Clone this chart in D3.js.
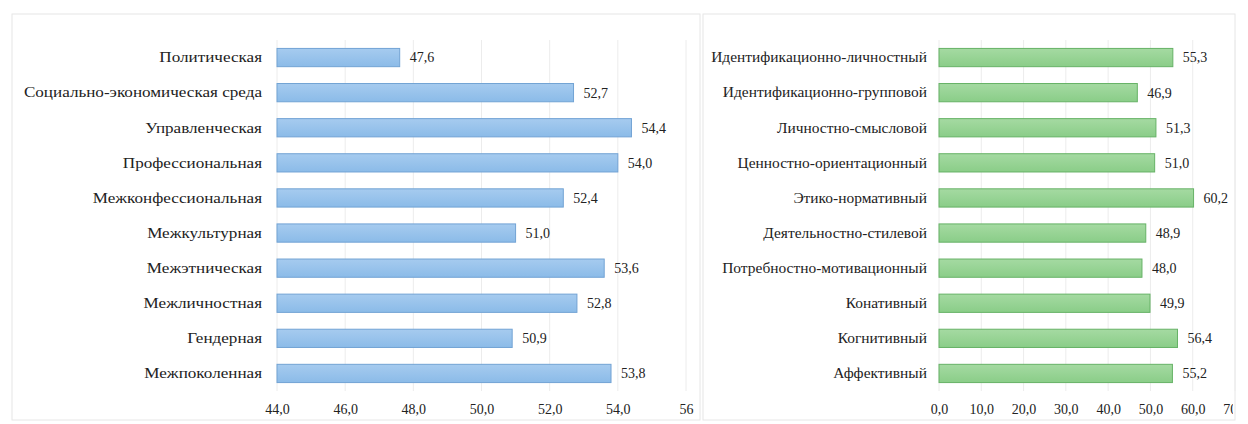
<!DOCTYPE html>
<html>
<head>
<meta charset="utf-8">
<script src="https://cdn.jsdelivr.net/npm/d3@7"></script>
<style>
  body { margin: 0; background: #fff; }
  svg text { font-family: "Times New Roman", "Liberation Serif", "DejaVu Serif", serif !important; fill: #222; }
</style>
</head>
<body>
<svg id="chart" width="1248" height="424"></svg>
<script>
// left panel
const leftCats = ["Политическая", "Социально-экономическая среда", "Управленческая", "Профессиональная",
  "Межконфессиональная", "Межкультурная", "Межэтническая", "Межличностная", "Гендерная", "Межпоколенная"];
const leftVals = [47.6, 52.7, 54.4, 54.0, 52.4, 51.0, 53.6, 52.8, 50.9, 53.8];
const leftTicks = [44, 46, 48, 50, 52, 54, 56];
const leftTickLabels = ["44,0", "46,0", "48,0", "50,0", "52,0", "54,0", "56"];

// right panel
const rightCats = ["Идентификационно-личностный", "Идентификационно-групповой", "Личностно-смысловой",
  "Ценностно-ориентационный", "Этико-нормативный", "Деятельностно-стилевой", "Потребностно-мотивационный",
  "Конативный", "Когнитивный", "Аффективный"];
const rightVals = [55.3, 46.9, 51.3, 51.0, 60.2, 48.9, 48.0, 49.9, 56.4, 55.2];
const rightTicks = [0, 10, 20, 30, 40, 50, 60, 70];
const rightTickLabels = ["0,0", "10,0", "20,0", "30,0", "40,0", "50,0", "60,0", "70,0"];

const svg = d3.select("#chart");
const defs = svg.append("defs");
const fmt = v => v.toFixed(1).replace(".", ",");

function panel(opt) {
    const g = svg.append("g");
    g.append("rect")
        .attr("x", opt.frame[0]).attr("y", 14)
        .attr("width", opt.frame[1] - opt.frame[0]).attr("height", 406)
        .attr("fill", "none").attr("stroke", "#e6e6e6");

    const x = d3.scaleLinear().domain(opt.domain).range(opt.range);
    const y = d3.scaleBand().domain(opt.cats).range([40, 391]).paddingInner(0.48).paddingOuter(0.24);

    // gridlines
    g.append("g").selectAll("line")
        .data(opt.ticks)
        .join("line")
        .attr("x1", d => x(d)).attr("x2", d => x(d))
        .attr("y1", 40).attr("y2", 391)
        .attr("stroke", "#ececec");

    const lg = defs.append("linearGradient")
        .attr("id", opt.id).attr("x1", 0).attr("x2", 0).attr("y1", 0).attr("y2", 1);
    lg.append("stop").attr("offset", "0%").attr("stop-color", opt.light);
    lg.append("stop").attr("offset", "100%").attr("stop-color", opt.fill);

    g.append("g").selectAll("rect")
        .data(opt.vals)
        .join("rect")
        .attr("x", x(opt.domain[0]))
        .attr("y", (d, i) => y(opt.cats[i]))
        .attr("width", d => x(d) - x(opt.domain[0]))
        .attr("height", y.bandwidth())
        .attr("fill", "url(#" + opt.id + ")")
        .attr("stroke", opt.stroke);

    // value labels
    g.append("g").selectAll("text")
        .data(opt.vals)
        .join("text")
        .attr("transform", (d, i) => "translate(" + (x(d) + 10) + "," + (y(opt.cats[i]) + y.bandwidth() / 2) + ")")
        .attr("dy", "0.35em")
        .attr("font-size", 14)
        .text(d => fmt(d));

    // category labels
    const yAxis = g.append("g")
        .attr("transform", "translate(" + (x(opt.domain[0]) - opt.gap) + ",0)")
        .call(d3.axisLeft(y).tickSize(0).tickPadding(0));
    yAxis.select(".domain").remove();
    yAxis.selectAll("text")
        .attr("font-size", 15)
        .attr("transform", "scale(" + opt.stretch + ",1)");

    // x axis labels, clipped at the frame
    defs.append("clipPath").attr("id", opt.id + "clip")
        .append("rect").attr("x", opt.frame[0]).attr("y", 0)
        .attr("width", opt.frame[1] - opt.frame[0] - 2).attr("height", 424);
    const xAxis = g.append("g")
        .attr("clip-path", "url(#" + opt.id + "clip)")
        .attr("transform", "translate(0,404)")
        .call(d3.axisBottom(x).tickValues(opt.ticks).tickSize(0).tickPadding(0)
            .tickFormat((d, i) => opt.tickLabels[i]));
    xAxis.select(".domain").remove();
    xAxis.selectAll("text")
        .attr("font-size", 14)
        .attr("fill", "#333");
}

panel({
    id: "lg", frame: [12, 700], domain: [44, 56], range: [277, 686], gap: 15, stretch: 1.14,
    cats: leftCats, vals: leftVals, ticks: leftTicks, tickLabels: leftTickLabels,
    fill: "#8bbbe8", light: "#a6cbef", stroke: "#72a3d4"
});
panel({
    id: "rg", frame: [703, 1235], domain: [0, 70], range: [939, 1235], gap: 12, stretch: 1.03,
    cats: rightCats, vals: rightVals, ticks: rightTicks, tickLabels: rightTickLabels,
    fill: "#8acd88", light: "#a5daa2", stroke: "#66b266"
});
</script>
</body>
</html>
